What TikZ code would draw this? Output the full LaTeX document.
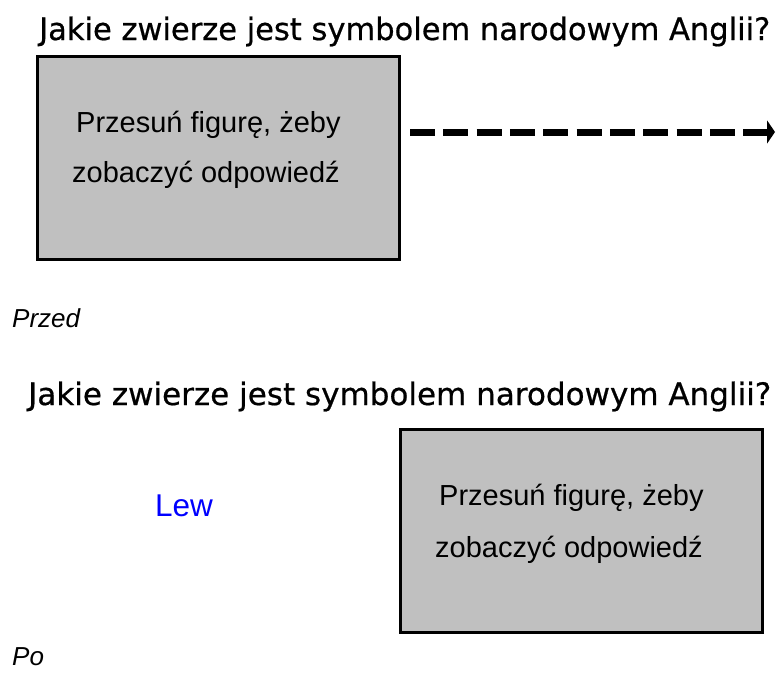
\documentclass[tikz,border=0pt]{standalone}
\usepackage{fontspec}
\usepackage{graphicx}
\setmainfont{Liberation Sans}
\newfontfamily\titlefont[FakeBold=0.6]{DejaVu Sans}
\usetikzlibrary{arrows.meta}
\definecolor{cardgray}{RGB}{192,192,192}
\definecolor{answerblue}{RGB}{0,0,255}
\begin{document}
\begin{tikzpicture}[x=1pt,y=-1pt,
  cardbox/.style={draw=black, line width=3.5pt, fill=cardgray, rectangle,
    minimum width=362pt, minimum height=203pt, inner sep=0pt, anchor=north west},
  cardtext/.style={font=\fontsize{29}{34}\selectfont, anchor=base west, inner sep=0pt},
  question/.style={anchor=base west, inner sep=0pt},
  caption/.style={font=\fontsize{26}{30}\selectfont\itshape, anchor=base west, inner sep=0pt},
  moveline/.style={line width=7pt, dash pattern=on 25pt off 8.33pt,
    -{Triangle[length=8pt,width=23pt]}}]
\useasboundingbox (0,0) rectangle (776,672);

% upper panel: card covering the answer
\node[question] (q1) at (39,40)
  {\titlefont\resizebox{731pt}{23.5pt}{Jakie zwierze jest symbolem narodowym Anglii?}};
\node[cardbox] (before) at (35.5,54.5) {};
\node[cardtext] (before1) at (76,132) {Przesuń figurę, żeby};
\node[cardtext] (before2) at (72,182) {zobaczyć odpowiedź};
\coordinate (arrowstart) at (410,132);
\coordinate (arrowend) at (775,132);
\draw[moveline] (arrowstart) -- (arrowend);
\node[caption] (przed) at (12,327) {Przed};

% lower panel: card moved aside, answer revealed
\node[question] (q2) at (28,405)
  {\titlefont\resizebox{743pt}{23.5pt}{Jakie zwierze jest symbolem narodowym Anglii?}};
\node[font=\fontsize{31.5}{36}\selectfont, text=answerblue, anchor=base west, inner sep=0pt]
  (answer) at (155,516) {Lew};
\node[cardbox] (after) at (398.5,427.5) {};
\node[cardtext] (after1) at (439,505) {Przesuń figurę, żeby};
\node[cardtext] (after2) at (435,557) {zobaczyć odpowiedź};
\node[caption] (po) at (12,665) {Po};
\end{tikzpicture}
\end{document}
